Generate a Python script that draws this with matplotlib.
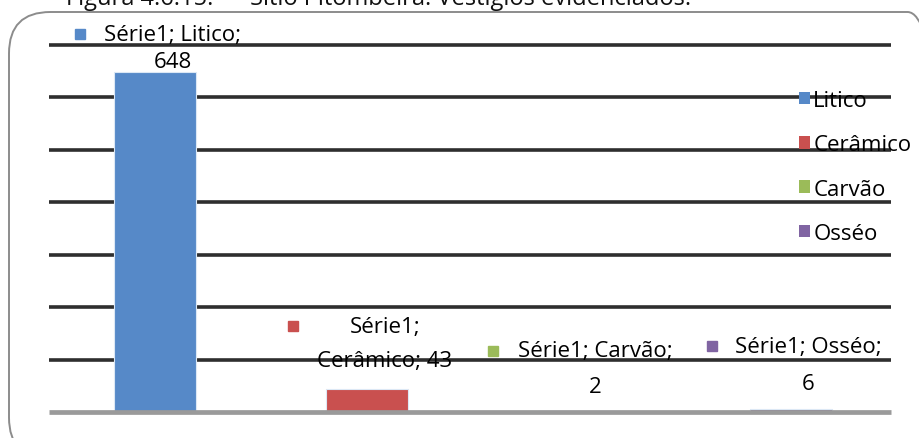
"""Sítio Pitombeira: vestígios evidenciados (bar chart, Excel style)."""

import matplotlib.pyplot as plt
from matplotlib.patches import FancyBboxPatch, Patch

categories = ["Litico", "Cerâmico", "Carvão", "Osséo"]
values = [648, 43, 2, 6]
series_name = "Série1"
colors = ["#5689C8", "#C9504F", "#9BBB59", "#8064A2"]
title = "Figura 4.6.15.      Sítio Pitombeira: Vestígios evidenciados."

plt.rcParams["font.family"] = ["Open Sans", "DejaVu Sans"]
FS = 16

W, H = 920, 439
fig = plt.figure(figsize=(W / 100, H / 100), dpi=100)


def fx(px):
    return px / W


def fy(py):
    return 1 - py / H


# rounded chart frame
frame = FancyBboxPatch((fx(9), fy(460)), fx(940), fy(13) - fy(460),
                       boxstyle="round,pad=0,rounding_size=0.045",
                       transform=fig.transFigure, fill=False,
                       edgecolor="#8c8c8c", linewidth=1.4, mutation_aspect=2.1)
fig.patches.append(frame)

# title sits above the frame and is clipped by the top edge, as in the source
fig.text(fx(66), fy(5), title, fontsize=17, ha="left", va="baseline", color="#111111")

ax = fig.add_axes([fx(49), fy(413), fx(897) - fx(49), fy(46) - fy(413)])
ax.set_xlim(-0.5, len(categories) - 0.5)
ax.set_ylim(0, 700)
ax.axis("off")

for yv in range(100, 701, 100):
    ax.plot([-0.5, 3.47], [yv, yv], color="#2e2e2e", lw=2.6, zorder=1,
            solid_capstyle="butt", clip_on=False)
ax.plot([-0.5, 3.47], [0, 0], color="#9a9a9a", lw=3.4, zorder=3,
        solid_capstyle="butt", clip_on=False)

x = range(len(categories))
ax.bar(x, values, width=0.39, color=colors, edgecolor="#dce8f5",
       linewidth=0.8, zorder=2)

# data labels: (marker x px, marker y px, text centre x px, first line y px, line gap px)
label_pos = [
    (80, 35, 173, 35, 27),
    (293, 327, 385, 327, 35),
    (493, 352, 595, 352, 36),
    (712, 347, 808, 348, 37),
]
for i, (mx, my, tx, ty, gap) in enumerate(label_pos):
    fig.patches.append(plt.Rectangle((fx(mx - 5), fy(my + 5)), fx(10), fy(0) - fy(10),
                                     transform=fig.transFigure, color=colors[i]))
    if i == 1:
        l1 = f"{series_name};"
        l2 = f"{categories[i]}; {values[i]}"
    else:
        l1 = f"{series_name}; {categories[i]};"
        l2 = f"{values[i]}"
    fig.text(fx(tx), fy(ty), l1, fontsize=FS, ha="center", va="center")
    fig.text(fx(tx), fy(ty + gap), l2, fontsize=FS, ha="center", va="center")

handles = [Patch(facecolor=c, edgecolor="none") for c in colors]
fig.legend(handles, categories, loc="upper left", bbox_to_anchor=(fx(790), fy(82)),
           frameon=False, fontsize=FS, handlelength=0.5, handleheight=0.5,
           handletextpad=0.15, labelspacing=1.05, borderaxespad=0)

fig.savefig("out.png", dpi=100)
